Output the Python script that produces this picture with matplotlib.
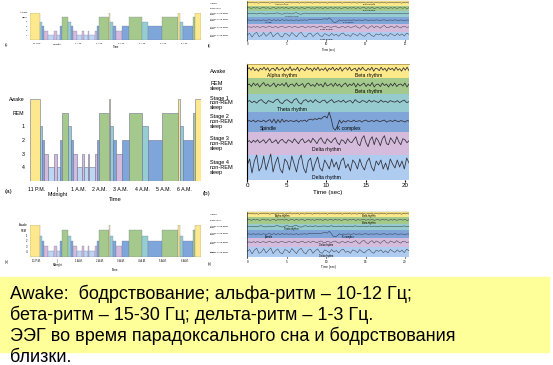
import matplotlib
matplotlib.use('Agg')
import matplotlib.pyplot as plt
import numpy as np

plt.rcParams['font.family'] = ['Liberation Sans', 'DejaVu Sans']

W, H = 553, 365

# hypnogram: start of each stage (minutes after 11 P.M.) and the stage itself
stage_starts = [-18, 11, 16, 22, 34, 51, 57, 67, 73, 89, 98, 105, 116, 130, 135,
                146, 150, 166, 172, 178, 206, 210, 218, 225, 244, 263, 300, 317,
                357, 402, 408, 416, 445, 451]
night_end = 467
stages = ['W', '1', '2', '3', '4', '3', '4', '2', 'R', '1', '2', '3', '4', '3', '4',
          '3', '4', '3', '2', 'R', 'W', '1', '2', '3', '2', 'R', '1', '2',
          'R', 'W', '1', '2', 'R', 'W']
stage_names = ['4', '3', '2', '1', 'REM', 'Awake']
hour_labels = ['11 P.M.', '|\nMidnight', '1 A.M.', '2 A.M.', '3 A.M.', '4 A.M.', '5 A.M.', '6 A.M.']

# EEG samples (arbitrary units) for each stage, 0..20 s
awake_uv = [0, 1.5, -1, 2, -1.5, 0.5, -2, 1, -0.5, 2, -1, 1.5, -2, 0.5, 1, -1.5, 2, -1, 0, 1.5,
            -2, 1, -1, 2.5, -1.5, 0.5, -1, 2, -2, 1, 0, -1.5, 2, -0.5, 1, -2, 1.5, -1, 2, -1.5,
            0.5, -1, 1.5, -2, 1, -0.5, 2, -1.5, 1, -1, 2, -2, 0.5, 1.5, -1, 2, -1.5, 0, 1, -2,
            1.5, -1, 2, -0.5, -1.5, 1, -1, 2, -2, 1, 0.5, -1.5, 2, -1, 1, -2, 1.5, -0.5, 1, -1.5,
            2, -1, 0.5, -2, 1.5, -1, 2, -1.5]
rem_uv = [0, 1, -1.5, 2, -0.5, 1.5, -2, 0.5, 2.5, -1, 1, -1.5, 0, 2, -2, 1, -0.5, 1.5, -1, 2.5,
          -2, 0.5, 1, -1.5, 2, -1, 0, 1.5, -2.5, 1, 2, -1, 0.5, -1.5, 2, -0.5, 1, -2, 2.5, -1,
          0, 1.5, -1.5, 2, -1, 1, -2, 0.5, 2, -1.5, 1, -0.5, 2, -2, 1.5, -1, 0.5, 2, -1.5, 1,
          -1, 2.5, -2, 0.5, 1, -1.5, 2, -0.5, 1, -2, 1.5, -1, 2, -1.5, 0.5, 1, -1, 2, -2, 1]
s1_uv = [0, 1, -1, 0.5, -1.5, 1, 2, -0.5, -2, 1, 0, -1, 1.5, 2.5, -1, -2, 1, 2, 0, -1.5,
         2, 3, -1, -2.5, 1, 2, -0.5, 1.5, -1, 2, 0, -1, 1, 1.5, -1.5, 0.5, 2, -1, 0, 1,
         -0.5, 1.5, -1, 0.5, 1, -1.5, 2, 0, -1, 1, 0.5, -1, 1.5, -0.5, 1, 0, -1, 1.5, -0.5, 0.5,
         -1, 1, 0, -0.5, 1, -1, 0.5, 1.5, -1, 0]
s2_uv = [0, 0.5, -0.5, 1, -1, 0.5, 0, -0.5, 1, -1, 0.5, 1.5, -1.5, 2, -2, 1.5, -1.5, 2, -1, 1,
         -0.5, 0.5, 0, -0.5, 1, -1, 0.5, 0, 1, -0.5, 1.5, 2, 1, 2.5, 1.5, 3, 2, 4, 5, 3,
         9, 2, -7, -9, -5, 1, -2, 0.5, -1, 0.5, 0, -0.5, 1, -0.5, 0, 0.5, -1, 0.5, 1, -0.5,
         0, 0.5, -0.5, 1, 0, -0.5, 0.5, 1, -1, 0, 0.5, -0.5, 1, 0, -0.5, 0.5, 0, -1, 0.5, 0]
s3_uv = [0, 1, -1, 1.5, -0.5, 2, -1, 0.5, 2, -1.5, 1, 3, -1, 0, 2, -2, 1, 2.5, 0, -1.5,
         2, 1, -1, 3, 0.5, -2, 1.5, 3, -1, 0, 2, -1, 3.5, 1, -2, 2, 4, 0, -2, 3,
         1, -1, 2, 4, -1, -3, 2, 1, -2, 3, 0, -1, 2, 5, -2, -4, 3, 6, -1, -5,
         2, 5, -3, 4, 1, -4, 3, 6, -2, -3, 4, 1, -2, 5, 0, -3, 3, 2, -1, 1]
s4_uv = [0, 6, -8, 4, 10, -6, -2, 9, -5, 3, 11, -7, 2, 8, -4, -8, 6, 3, -5, 9,
         1, -7, 5, 10, -3, -8, 4, 7, -6, 2, 8, -3, -6, 5, 1, -4, 6, -2, 3, -5,
         4, 7, -3, 1, -6, 5, 2, -4, 6, -1, -5, 3, 7, -2, -6, 4, 0, 5, -4, 2,
         -5, 6, 1, -3, 5, -2, 4, -4, 7, 2]
eeg_traces = [awake_uv, rem_uv, s1_uv, s2_uv, s3_uv, s4_uv]
band_names = ['Awake', 'REM sleep', 'Stage 1 non-REM sleep', 'Stage 2 non-REM sleep',
              'Stage 3 non-REM sleep', 'Stage 4 non-REM sleep']
band_notes = [[('Alpha rhythm', 4.4), ('Beta rhythm', 15.4)], [('Beta rhythm', 15.4)],
              [('Theta rhythm', 5.6)], [('Spindle', 2.7), ('K complex', 12.8)],
              [('Delta rhythm', 10)], [('Delta rhythm', 10)]]

level = {'W': 6, 'R': 5, '1': 4, '2': 3, '3': 2, '4': 1}
hyp_col = {'W': '#fde88e', 'R': '#a5c98c', '1': '#96cdd2', '2': '#7ea6da',
           '3': '#d4badd', '4': '#bdd6f4'}
band_col = ['#fde88a', '#a3c98c', '#96cbcf', '#80a5d8', '#d6bcdc', '#aecbf0']
band_h = [14, 16, 17.4, 20, 23.3, 25]
trace_pos = [0.35, 0.42, 0.42, 0.47, 0.43, 0.40]
note_pos = [0.78, 0.85, 0.85, 0.82, 0.78, 0.88]


def px_axes(fig, x0, y0, x1, y1):
    return fig.add_axes([x0 / W, 1 - y1 / H, (x1 - x0) / W, (y1 - y0) / H])


def wrap_name(name, small):
    # big copy: three short lines, small copies: two lines
    if name.startswith('Stage'):
        if small:
            return name.replace(' sleep', '\nsleep')
        return name.replace(' non', '\nnon').replace(' sleep', '\nsleep')
    if small:
        return name
    return name.replace(' sleep', '\nsleep')


def draw_hypno(ax, s):
    edges = stage_starts + [night_end]
    for i, st in enumerate(stages):
        ax.bar(edges[i], level[st], width=edges[i + 1] - edges[i], align='edge',
               color=hyp_col[st], edgecolor='#70728f', linewidth=0.4 * s)
    ax.set_xlim(-18.5, 467.5)
    ax.set_ylim(0, 6)
    ax.set_yticks([1, 2, 3, 4, 5, 6])
    ax.set_yticklabels(stage_names, fontsize=3.8 * s)
    ax.set_xticks(np.arange(0, 480, 60))
    ax.set_xticklabels(hour_labels, fontsize=3.8 * s, linespacing=1.0)
    ax.tick_params(length=0, pad=4 * s)
    for sp in ax.spines.values():
        sp.set_visible(False)
    ax.set_xlabel('Time', fontsize=4.2 * s, labelpad=0.5)


def draw_eeg(ax, s):
    small = s < 1
    total = sum(band_h)
    top = total
    for i, tr in enumerate(eeg_traces):
        h = band_h[i]
        ax.axhspan(top - h, top, color=band_col[i], lw=0)
        t = np.linspace(0, 20.5, len(tr))
        yc = top - trace_pos[i] * h
        ax.plot(t, yc + np.array(tr) * (0.8 if small else 1.0), color='#2d2d35',
                lw=0.45 * s + 0.1)
        for note, tx in band_notes[i]:
            ax.text(tx, top - note_pos[i] * h, note, fontsize=3.6 * s, ha='center', va='center')
        ax.text(-0.23, (top - h / 2) / total, wrap_name(band_names[i], small),
                transform=ax.transAxes, fontsize=(1.6 if small else 4.0), ha='left',
                va='center', linespacing=0.95)
        top -= h
    ax.set_xlim(0, 20.5)
    ax.set_ylim(0, total)
    ax.set_yticks([])
    ax.set_xticks([0, 5, 10, 15, 20])
    ax.tick_params(labelsize=4.5 * s, length=1.5 * s, pad=1)
    for k in ['right', 'bottom']:
        ax.spines[k].set_visible(False)
    ax.spines['left'].set_linewidth(0.8 * s)
    ax.spines['top'].set_color('#b09a50')
    ax.spines['top'].set_linewidth(0.6 * s)
    ax.set_xlabel('Time (sec)', fontsize=4.5 * s, labelpad=1)


fig = plt.figure(figsize=(W / 100, H / 100), dpi=100)

# three copies: (hypnogram box, eeg box, font scale)
panels = [((30, 12.7, 201, 40), (247.3, 1, 409, 40), 0.45),
          ((30, 99, 201, 181), (247.3, 64.3, 409, 180), 1.0),
          ((30, 225, 201, 256.7), (247.3, 211.7, 409, 257.3), 0.5)]
for hbox, ebox, s in panels:
    axh = px_axes(fig, *hbox)
    draw_hypno(axh, s)
    axe = px_axes(fig, *ebox)
    draw_eeg(axe, s)
    fig.text(5 / W, 1 - (hbox[3] + 11 * s) / H, '(a)', fontsize=4.5 * s, va='center')
    fig.text((ebox[0] - 45 + 10 * (1 - s)) / W, 1 - (ebox[3] + 13 * s) / H, '(b)',
             fontsize=4.5 * s, va='center')

# yellow caption box
fig.patches.append(plt.Rectangle((0, 1 - 352 / H), 549 / W, 75 / H, transform=fig.transFigure,
                                 color='#ffff99', zorder=0))
caption = ['Awake:  бодрствование; альфа-ритм – 10-12 Гц;',
           'бета-ритм – 15-30 Гц; дельта-ритм – 1-3 Гц.',
           'ЭЭГ во время парадоксального сна и бодрствования',
           'близки.']
for i, line in enumerate(caption):
    fig.text(10 / W, 1 - (299.3 + 20.8 * i) / H, line, fontsize=13, va='baseline', color='black')

fig.savefig('out.png', dpi=100)
